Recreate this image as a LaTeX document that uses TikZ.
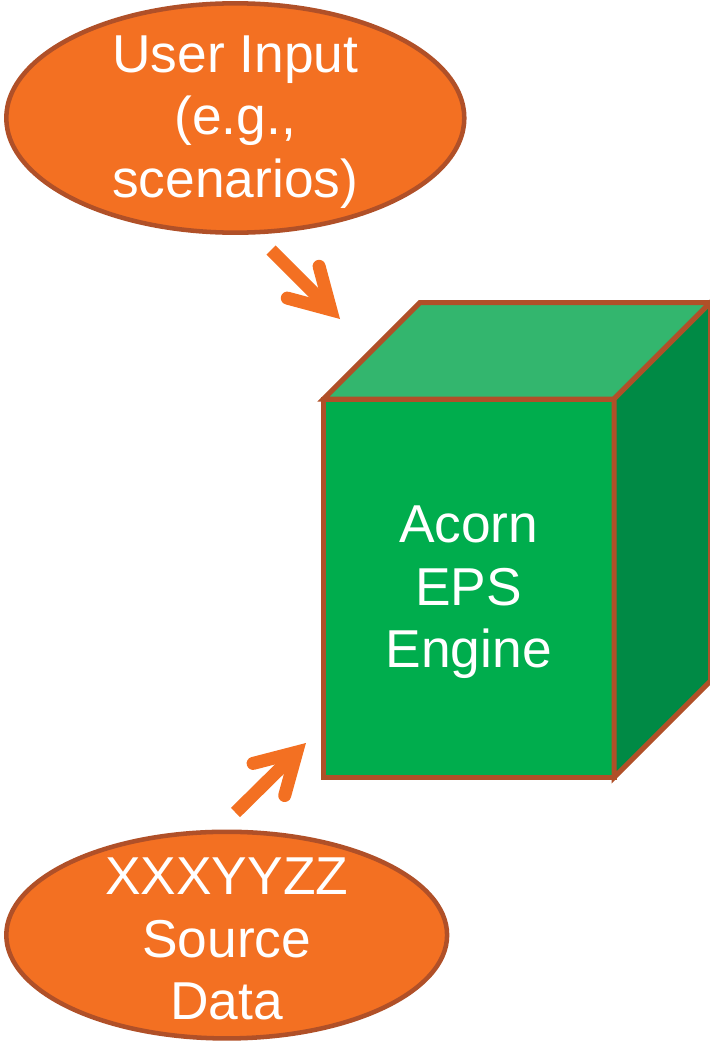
\documentclass[tikz,border=0pt]{standalone}
\usepackage{fontspec}
\setmainfont{Liberation Sans}
\usetikzlibrary{shapes.geometric}
\definecolor{orangefill}{RGB}{243,112,34}
\definecolor{brownline}{RGB}{176,80,40}
\definecolor{frontgreen}{RGB}{0,173,77}
\definecolor{topgreen}{RGB}{51,182,110}
\definecolor{sidegreen}{RGB}{0,138,69}
\tikzset{
  oval/.style={ellipse, draw=brownline, fill=orangefill, line width=3.4pt, inner sep=0pt, outer sep=0pt},
  label text/.style={text=white, align=center, font=\fontsize{40pt}{47pt}\selectfont, inner sep=0pt, yshift=-3pt},
  face/.style={draw=brownline, line width=3.75pt, line join=miter},
  shaft/.style={draw=orangefill, line width=9.75pt, line cap=butt},
  barbs/.style={draw=orangefill, line width=9.75pt, line cap=round, line join=miter},
}
\begin{document}
\begin{tikzpicture}[x=0.75pt, y=-0.75pt]
\useasboundingbox (0,0) rectangle (710,1042);
% ovals
\node[oval, minimum width=343.5pt, minimum height=172pt] (ui) at (235.3,118) {};
\node[label text] (uit) at (ui.center) {User Input\\(e.g.,\\scenarios)};
\node[oval, minimum width=330.6pt, minimum height=155pt] (src) at (226.7,935.1) {};
\node[label text] (srct) at (src.center) {XXXYYZZ\\Source\\Data};
% cube
\node[rectangle, face, fill=frontgreen, minimum width=217.875pt, minimum height=283.875pt, outer sep=0pt, inner sep=0pt] (eng) at (468.75,588.25) {};
\draw[face, fill=topgreen] (eng.north west) -- ++(96.5,-96.5) -- ++(290.5,0) -- (eng.north east) -- cycle;
\draw[face, fill=sidegreen] (eng.north east) -- ++(96.5,-96.5) -- ++(0,378.5) -- (eng.south east) -- cycle;
\node[label text] (engt) at (eng.center) {Acorn\\EPS\\Engine};
% arrow from user input
\coordinate (a1t) at (271,250);
\coordinate (a1v) at (330.8,309.8);
\coordinate (a1b1) at (319.1,266.3);
\coordinate (a1b2) at (287.3,298.1);
\draw[shaft] (a1t) -- (a1v);
\draw[barbs] (a1b1) -- (a1v) -- (a1b2);
% arrow from source data
\coordinate (a2t) at (235.5,812.5);
\coordinate (a2v) at (296.7,752.1);
\coordinate (a2b1) at (253.1,763.4);
\coordinate (a2b2) at (284.7,795.5);
\draw[shaft] (a2t) -- (a2v);
\draw[barbs] (a2b1) -- (a2v) -- (a2b2);
\end{tikzpicture}
\end{document}
